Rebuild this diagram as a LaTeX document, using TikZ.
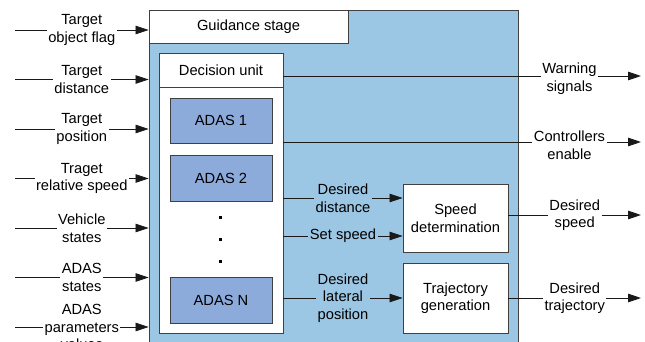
\documentclass[tikz,border=0pt]{standalone}
\usepackage{fontspec}
\setmainfont{Liberation Sans}
\usetikzlibrary{arrows.meta}
\definecolor{panelblue}{RGB}{155,198,228}
\definecolor{adasblue}{RGB}{141,171,218}
\definecolor{edgegray}{RGB}{64,64,64}
\tikzset{
  frame/.style={draw=edgegray, line width=0.9pt, inner sep=0pt, anchor=center},
  whitebox/.style={frame, fill=white, align=center},
  adasbox/.style={frame, fill=adasblue, minimum width=102pt, minimum height=46pt},
  procbox/.style={whitebox, minimum width=105pt},
  sig/.style={line width=0.8pt, draw=black!90, -{Triangle[length=13pt,width=8.5pt]}},
  lab/.style={fill=white, inner sep=1.5pt, align=center},
  inlab/.style={lab, fill=panelblue},
  dotmark/.style={fill=black, inner sep=0pt, minimum size=3pt}
}
\begin{document}
\begin{tikzpicture}[x=1pt, y=-1pt, font=\fontsize{14.7}{17.5}\selectfont]
\useasboundingbox (0,0) rectangle (645,342);
\clip (0,0) rectangle (645,342);

% guidance stage panel and its blocks
\node[frame, fill=panelblue, minimum width=369pt, minimum height=350pt] (stage) at (333.5,185) {};
\node[whitebox, minimum width=199pt, minimum height=33pt] (guide) at (248.5,26.5) {Guidance stage};
\node[whitebox, minimum width=124pt, minimum height=246pt] (dbody) at (221,210) {};
\node[whitebox, minimum width=124pt, minimum height=34pt] (dhead) at (221,70) {Decision unit};
\node[adasbox, minimum height=45pt] (adas1) at (221,120.5) {ADAS 1};
\node[adasbox] (adas2) at (221,178) {ADAS 2};
\node[adasbox] (adasn) at (221,300) {ADAS N};
\node[dotmark] (dot1) at (220,217) {};
\node[dotmark] (dot2) at (220,239) {};
\node[dotmark] (dot3) at (220,261) {};
\node[procbox, minimum height=68pt] (speed) at (455.5,218) {Speed\\determination};
\node[procbox, minimum height=70pt] (traj) at (455.5,298) {Trajectory\\generation};

% inputs
\foreach \n/\y/\txt in {
  in1/30/{Target\\object flag},
  in2/79.5/{Target\\distance},
  in3/129/{Target\\position},
  in4/178.5/{Traget\\relative speed},
  in5/228/{Vehicle\\states},
  in6/277.5/{ADAS\\states},
  in7/327/{ADAS\\parameters\\values}}{
  \coordinate (\n) at (15,\y);
  \draw[sig] (\n) -- (\n -| stage.west) node[midway, lab] {\txt};
}

% internal signals
\coordinate (ddist) at (403,198);
\coordinate (sset) at (403,236);
\draw[sig] (dbody.east |- ddist) -- (ddist -| speed.west) node[midway, inlab] {Desired\\distance};
\draw[sig] (dbody.east |- sset) -- (sset -| speed.west) node[midway, inlab] {Set speed};
\draw[sig] (dbody.east |- traj.west) -- (traj.west) node[midway, inlab] {Desired\\lateral\\position};

% outputs
\coordinate (wout) at (641,76);
\coordinate (cout) at (641,142);
\coordinate (sout) at (641,215);
\coordinate (tout) at (641,298);
\draw[sig] (dhead.east |- wout) -- (wout) node[pos=0.8, lab, yshift=-2.5pt] {Warning\\signals};
\draw[sig] (dbody.east |- cout) -- (cout) node[pos=0.8, lab, yshift=-3pt] {Controllers\\enable};
\draw[sig] (speed.east |- sout) -- (sout) node[midway, lab] {Desired\\speed};
\draw[sig] (traj.east) -- (tout) node[midway, lab] {Desired\\trajectory};
\end{tikzpicture}
\end{document}
